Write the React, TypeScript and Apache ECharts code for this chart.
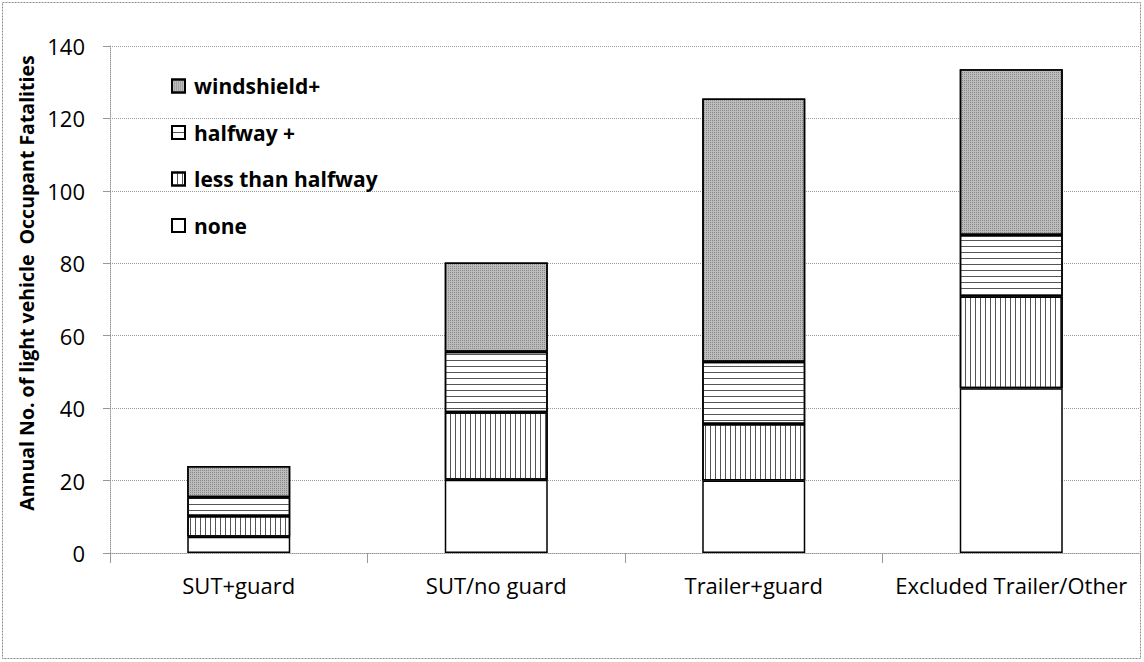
import React, { useEffect, useRef } from "react";
import * as echarts from "echarts";

const categories = ["SUT+guard", "SUT/no guard", "Trailer+guard", "Excluded Trailer/Other"];
const noneValues = [4.5, 20.2, 20.0, 45.5];
const lessThanHalfwayValues = [5.7, 18.7, 15.6, 25.3];
const halfwayPlusValues = [5.2, 16.7, 17.2, 17.0];
const windshieldPlusValues = [8.6, 24.6, 72.7, 45.8];
const legendOrder = ["windshield+", "halfway +", "less than halfway", "none"];
const yTitle = "Annual No. of light vehicle  Occupant Fatalities";

const FONT = "Open Sans";

export default function App() {
  const ref = useRef<HTMLDivElement>(null);
  useEffect(() => {
    if (!ref.current) return;
    const chart = echarts.init(ref.current, undefined, { renderer: "svg" });
    const border = { borderColor: "#000", borderWidth: 1.5 };
    const option: any = {
      animation: false,
      backgroundColor: "#fff",
      textStyle: { fontFamily: FONT },
      graphic: [
        {
          type: "rect",
          shape: { x: 2.5, y: 2.5, width: 1138, height: 656 },
          style: { fill: "none", stroke: "#8c8c8c", lineWidth: 1, lineDash: [2, 1] },
          silent: true,
        },
        {
          type: "text",
          x: 26,
          y: 283,
          rotation: Math.PI / 2,
          style: {
            text: yTitle,
            fontFamily: FONT,
            fontWeight: "bold",
            fontSize: 19.5,
            fill: "#000",
            align: "center",
            verticalAlign: "middle",
          },
          silent: true,
        },
      ],
      legend: {
        orient: "vertical",
        left: 171,
        top: 75,
        padding: 0,
        itemWidth: 13,
        itemHeight: 13,
        itemGap: 24.5,
        icon: "rect",
        data: legendOrder,
        textStyle: {
          fontFamily: FONT,
          fontWeight: "bold",
          fontSize: 21,
          lineHeight: 22,
          color: "#000",
          padding: [0, 0, 0, 4],
        },
      },
      grid: { left: 110, right: 4, top: 46, bottom: 109, containLabel: false },
      xAxis: {
        type: "category",
        data: categories,
        axisLine: { lineStyle: { color: "#999", type: "dotted" } },
        axisTick: { show: true, interval: 0, length: 10, lineStyle: { color: "#999" } },
        axisLabel: { interval: 0, fontFamily: FONT, fontSize: 22, color: "#000", margin: 21 },
      },
      yAxis: {
        type: "value",
        min: 0,
        max: 140,
        interval: 20,
        axisLine: { show: true, lineStyle: { color: "#999", type: "dotted" } },
        axisTick: { show: true, length: 7, lineStyle: { color: "#999" } },
        axisLabel: { fontFamily: FONT, fontSize: 22, color: "#000", margin: 25 },
        splitLine: { lineStyle: { color: "#999", type: "dotted" } },
      },
      series: [
        {
          name: "none",
          type: "bar",
          stack: "s",
          barWidth: "40%",
          data: noneValues,
          itemStyle: { color: "#fff", ...border },
        },
        {
          name: "less than halfway",
          type: "bar",
          stack: "s",
          data: lessThanHalfwayValues,
          itemStyle: {
            color: "#fff",
            ...border,
            decal: { symbol: "rect", symbolSize: 1, color: "#555", dashArrayX: [1, 4], dashArrayY: [2, 0] },
          },
        },
        {
          name: "halfway +",
          type: "bar",
          stack: "s",
          data: halfwayPlusValues,
          itemStyle: {
            color: "#fff",
            ...border,
            decal: { symbol: "rect", symbolSize: 1, color: "#555", dashArrayX: [2, 0], dashArrayY: [1, 5] },
          },
        },
        {
          name: "windshield+",
          type: "bar",
          stack: "s",
          data: windshieldPlusValues,
          itemStyle: {
            color: "#bcbcbc",
            ...border,
            decal: { symbol: "rect", symbolSize: 1, color: "#888", dashArrayX: [1, 1], dashArrayY: [1, 1] },
          },
        },
      ],
    };
    chart.setOption(option);
    return () => chart.dispose();
  }, []);
  return (
    <div
      ref={ref}
      style={{ position: "absolute", left: 0, top: 0, width: 1144, height: 662 }}
    />
  );
}
